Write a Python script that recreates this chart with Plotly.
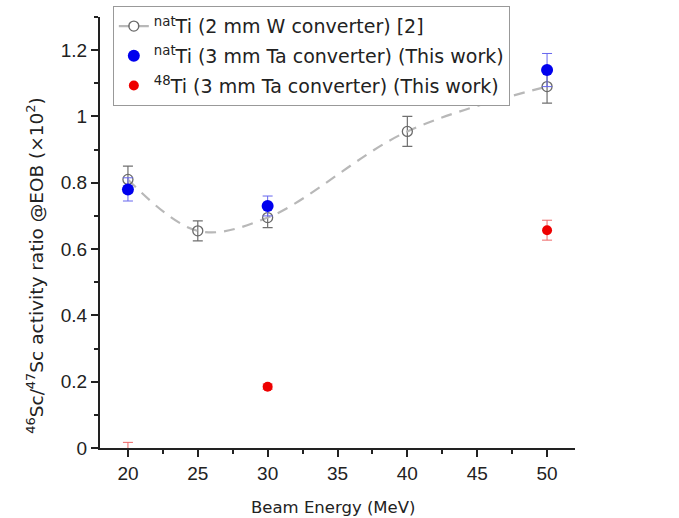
import plotly.graph_objects as go

# natTi, 2 mm W converter [2]
w_x = [20, 25, 30, 40, 50]
w_y = [0.81, 0.655, 0.695, 0.955, 1.09]
w_err = [0.04, 0.03, 0.03, 0.045, 0.05]

# natTi, 3 mm Ta converter (this work)
ta_x = [20, 30, 50]
ta_y = [0.78, 0.73, 1.14]
ta_err = [0.035, 0.03, 0.05]

# 48Ti, 3 mm Ta converter (this work)
t48_x = [20, 30, 50]
t48_y = [-0.02, 0.185, 0.657]
t48_err = [0.037, 0.008, 0.03]

x_ticks = [20, 25, 30, 35, 40, 45, 50]

TXT = "DejaVu Sans"

fig = go.Figure()

fig.add_trace(go.Scatter(
    x=w_x, y=w_y, mode="lines+markers", legendgroup="a",
    name="<sup>nat</sup>Ti (2 mm W converter) [2]",
    line=dict(color="#b8b8b8", width=2.2, dash="11px,8px", shape="spline", smoothing=1.0),
    marker=dict(symbol="circle-open", size=10, color="#6a6a6a", line=dict(width=1.3)),
    error_y=dict(type="data", array=w_err, color="#707070", thickness=1.2, width=5),
))
fig.add_trace(go.Scatter(
    x=ta_x, y=ta_y, mode="markers", legendgroup="b",
    name="<sup>nat</sup>Ti (3 mm Ta converter) (This work)",
    marker=dict(symbol="circle", size=12, color="#0000ee"),
    error_y=dict(type="data", array=ta_err, color="#6666ee", thickness=1.0, width=5),
))
fig.add_trace(go.Scatter(
    x=t48_x, y=t48_y, mode="markers", legendgroup="c",
    name="<sup>48</sup>Ti (3 mm Ta converter) (This work)",
    marker=dict(symbol="circle", size=10, color="#ee0000"),
    error_y=dict(type="data", array=t48_err, color="#ee6666", thickness=1.0, width=5),
    cliponaxis=True,
))

fig.update_layout(
    width=679, height=518,
    margin=dict(l=100, r=104, t=17, b=70, autoexpand=False),
    paper_bgcolor="white", plot_bgcolor="white",
    font=dict(family=TXT, size=16, color="#222"),
    legend=dict(
        x=0.027, y=1.025, xanchor="left", yanchor="top",
        bgcolor="white", bordercolor="#999", borderwidth=1,
        font=dict(family=TXT, size=19, color="#222"),
        itemwidth=30, tracegroupgap=2,
    ),
    xaxis=dict(
        range=[18, 52], tickvals=x_ticks, showgrid=False, zeroline=False,
        showline=True, linecolor="#222", linewidth=2,
        ticks="outside", ticklen=7, tickwidth=2, tickcolor="#222",
        minor=dict(dtick=2.5, tick0=20, ticks="outside", ticklen=4, tickwidth=1.5, tickcolor="#222"),
        tickfont=dict(family="Liberation Sans", size=19, color="#222"),
    ),
    yaxis=dict(
        range=[0, 1.3], dtick=0.2, tick0=0, showgrid=False, zeroline=False,
        showline=True, linecolor="#222", linewidth=2,
        ticks="outside", ticklen=7, tickwidth=2, tickcolor="#222",
        minor=dict(dtick=0.1, ticks="outside", ticklen=4, tickwidth=1.5, tickcolor="#222"),
        tickfont=dict(family="Liberation Sans", size=19, color="#222"),
    ),
    annotations=[
        dict(
            text="<sup>46</sup>Sc/<sup>47</sup>Sc activity ratio @EOB (×10<sup>2</sup>)",
            textangle=-90, xref="paper", yref="paper",
            x=-0.137, y=0.425, xanchor="center", yanchor="middle", showarrow=False,
            font=dict(family=TXT, size=18.5, color="#222"),
        ),
        dict(
            text="Beam Energy (MeV)", xref="paper", yref="paper",
            x=0.49, y=-0.137, xanchor="center", yanchor="middle", showarrow=False,
            font=dict(family=TXT, size=16.5, color="#222"),
        ),
    ],
)

fig.write_html("out.html")
